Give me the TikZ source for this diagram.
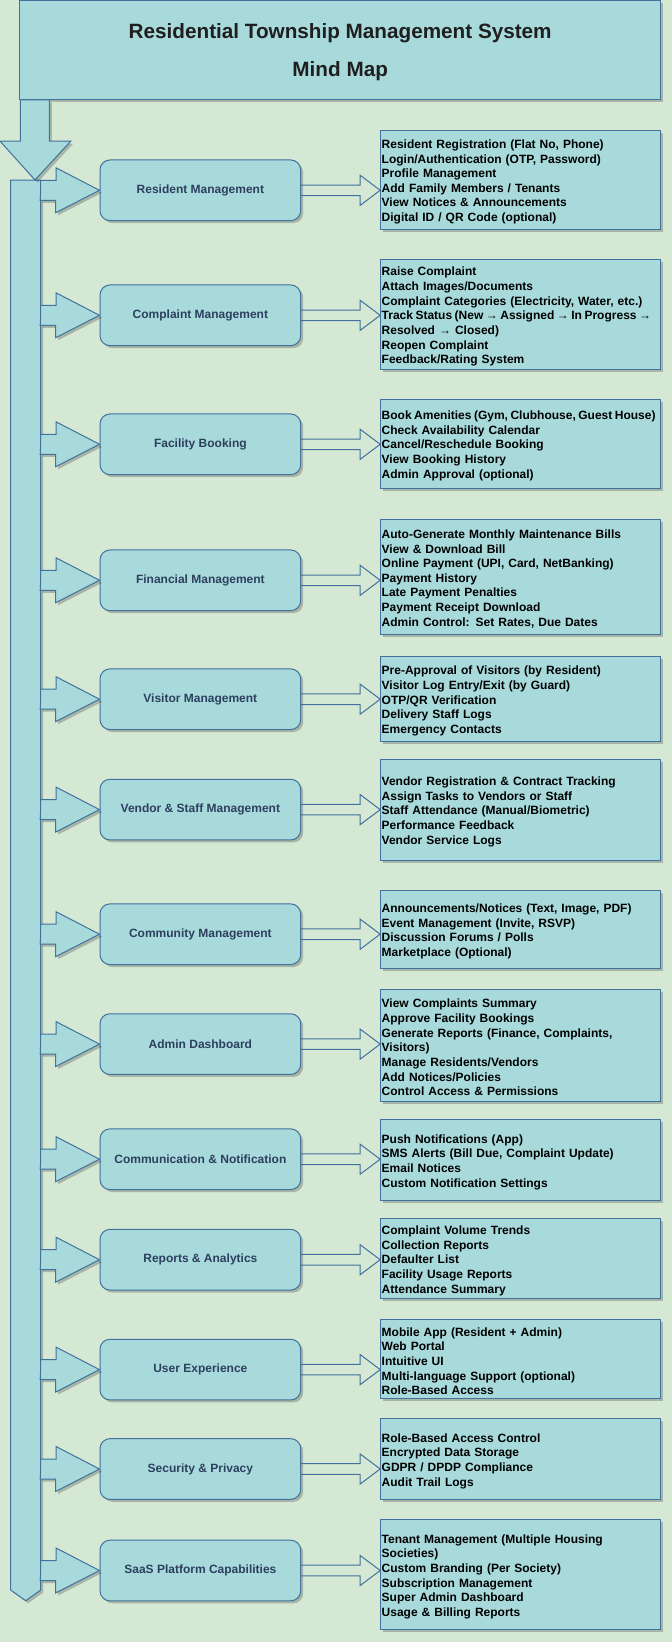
\documentclass[tikz,border=0pt]{standalone}
\usepackage{fontspec}
\setmainfont{Liberation Sans}
\usepackage{tikz}
\usetikzlibrary{calc,shadows}

\definecolor{fundo}{HTML}{D5E8D4}
\definecolor{caixa}{HTML}{A8DADC}
\definecolor{borda}{HTML}{41719C}
\definecolor{rotulo}{HTML}{2D3F5E}

\newcommand{\apertado}[1]{\mbox{\spaceskip=0.75\fontdimen2\font plus 0pt minus 0pt #1}}

\begin{document}
\begin{tikzpicture}[x=1pt, y=-1pt,
  sombra/.style={drop shadow={shadow xshift=2.5pt, shadow yshift=-2.5pt, opacity=0.22, fill=black}},
  bloco/.style={fill=caixa, draw=borda, line width=1pt, sombra},
  titulo/.style={bloco, minimum width=640.6pt, minimum height=98.6pt, align=center, text depth=0pt,
    text=black!88, font=\fontsize{20.7}{38}\selectfont\bfseries},
  topico/.style={bloco, rounded corners=10pt, minimum width=200.7pt, minimum height=60.7pt,
    text=rotulo, font=\fontsize{12}{14}\selectfont\bfseries},
  lista/.style={bloco, text width=278pt, inner xsep=1pt, inner ysep=0pt, align=left, text height=12.9pt,
    font=\fontsize{12}{14.65}\selectfont\bfseries},
  oca/.style={draw=borda, line width=1pt}]

  \fill[fundo] (0,0) rectangle (672,1642);
  \useasboundingbox (0,0) rectangle (672,1642);

  \def\tx{200.35}
  \def\lx{520.7}

  % titulo
  \node[titulo] (title) at (340.2,50) {Residential Township Management System\\Mind Map};

  % tronco vertical
  \coordinate (tronco) at (40.7,180);
  \coordinate (ponta) at (35,180);
  \filldraw[bloco] (10.7,180) -- (10.7,1590) -- (25.7,1600.7) -- (40.7,1590) -- (tronco) -- cycle;

  % seta do titulo ao tronco
  \path (title.south west) ++(1,0) coordinate (haste);
  \filldraw[bloco] (haste) -- ++(0,41.4) -- ++(-20.3,0) -- (ponta) -- ++(35.7,-38.8)
    -- ++(-21.4,0) -- ++(0,-41.4) -- cycle;

  % topicos
  \node[topico] (resident)  at (\tx,190.3)  {Resident Management};
  \node[topico] (complaint) at (\tx,315.3)  {Complaint Management};
  \node[topico] (facility)  at (\tx,444.3)  {Facility Booking};
  \node[topico] (financial) at (\tx,580.3)  {Financial Management};
  \node[topico] (visitor)   at (\tx,699.2)  {Visitor Management};
  \node[topico] (vendor)    at (\tx,809.6)  {Vendor \& Staff Management};
  \node[topico] (community) at (\tx,934.2)  {Community Management};
  \node[topico] (admin)     at (\tx,1044.1) {Admin Dashboard};
  \node[topico] (comm)      at (\tx,1159.2) {Communication \& Notification};
  \node[topico] (reports)   at (\tx,1259.7) {Reports \& Analytics};
  \node[topico] (ux)        at (\tx,1369.6) {User Experience};
  \node[topico] (security)  at (\tx,1469.0) {Security \& Privacy};
  \node[topico] (saas)      at (\tx,1570.5) {SaaS Platform Capabilities};

  % listas de funcoes
  \node[lista, minimum height=99.5pt] (resident-list) at (\lx,179.8) {Resident Registration (Flat No, Phone)\\
    Login/Authentication (OTP, Password)\\Profile Management\\Add Family Members / Tenants\\
    View Notices \& Announcements\\Digital ID / QR Code (optional)};
  \node[lista, minimum height=109.3pt] (complaint-list) at (\lx,314.6) {Raise Complaint\\Attach Images/Documents\\
    Complaint Categories (Electricity, Water, etc.)\\
    \apertado{Track Status (New → Assigned → In Progress →}\\Resolved → Closed)\\Reopen Complaint\\Feedback/Rating System};
  \node[lista, minimum height=89pt] (facility-list) at (\lx,443.6) {\apertado{Book Amenities (Gym, Clubhouse, Guest House)}\\
    Check Availability Calendar\\Cancel/Reschedule Booking\\View Booking History\\Admin Approval (optional)};
  \node[lista, minimum height=115pt] (financial-list) at (\lx,576.8) {Auto-Generate Monthly Maintenance Bills\\
    View \& Download Bill\\Online Payment (UPI, Card, NetBanking)\\Payment History\\Late Payment Penalties\\
    Payment Receipt Download\\Admin Control: Set Rates, Due Dates};
  \node[lista, minimum height=84.8pt] (visitor-list) at (\lx,699) {Pre-Approval of Visitors (by Resident)\\
    Visitor Log Entry/Exit (by Guard)\\OTP/QR Verification\\Delivery Staff Logs\\Emergency Contacts};
  \node[lista, minimum height=101pt] (vendor-list) at (\lx,809.8) {Vendor Registration \& Contract Tracking\\
    Assign Tasks to Vendors or Staff\\Staff Attendance (Manual/Biometric)\\Performance Feedback\\Vendor Service Logs};
  \node[lista, minimum height=78.5pt] (community-list) at (\lx,929.3) {Announcements/Notices (Text, Image, PDF)\\
    Event Management (Invite, RSVP)\\Discussion Forums / Polls\\Marketplace (Optional)};
  \node[lista, minimum height=112pt] (admin-list) at (\lx,1045.3) {View Complaints Summary\\Approve Facility Bookings\\
    Generate Reports (Finance, Complaints,\\Visitors)\\Manage Residents/Vendors\\Add Notices/Policies\\
    Control Access \& Permissions};
  \node[lista, minimum height=81.7pt] (comm-list) at (\lx,1160.1) {Push Notifications (App)\\
    SMS Alerts (Bill Due, Complaint Update)\\Email Notices\\Custom Notification Settings};
  \node[lista, minimum height=79.6pt] (reports-list) at (\lx,1258.5) {Complaint Volume Trends\\Collection Reports\\
    Defaulter List\\Facility Usage Reports\\Attendance Summary};
  \node[lista, minimum height=79.5pt] (ux-list) at (\lx,1359) {Mobile App (Resident + Admin)\\Web Portal\\
    Intuitive UI\\Multi-language Support (optional)\\Role-Based Access};
  \node[lista, minimum height=80.6pt] (security-list) at (\lx,1459) {Role-Based Access Control\\
    Encrypted Data Storage\\GDPR / DPDP Compliance\\Audit Trail Logs};
  \node[lista, minimum height=109.3pt] (saas-list) at (\lx,1574.6) {Tenant Management (Multiple Housing\\
    Societies)\\Custom Branding (Per Society)\\Subscription Management\\Super Admin Dashboard\\
    Usage \& Billing Reports};

  % setas
  \foreach \n in {resident,complaint,facility,financial,visitor,vendor,community,admin,comm,reports,ux,security,saas}{
    \filldraw[bloco] (\n.west -| tronco) -- ++(0,-10) -- ++(15.3,0) -- ++(0,-12.5) -- (\n.west)
      -- ++(-44,22.5) -- ++(0,-12.5) -- ++(-15.3,0) -- cycle;
    \draw[oca] (\n.east) ++(0,-5.3) -| ($(\n.east -| \n-list.west)+(-20,-15)$) -- (\n.east -| \n-list.west)
      -- ++(-20,15) |- ($(\n.east)+(0,5.3)$);
  }
\end{tikzpicture}
\end{document}
